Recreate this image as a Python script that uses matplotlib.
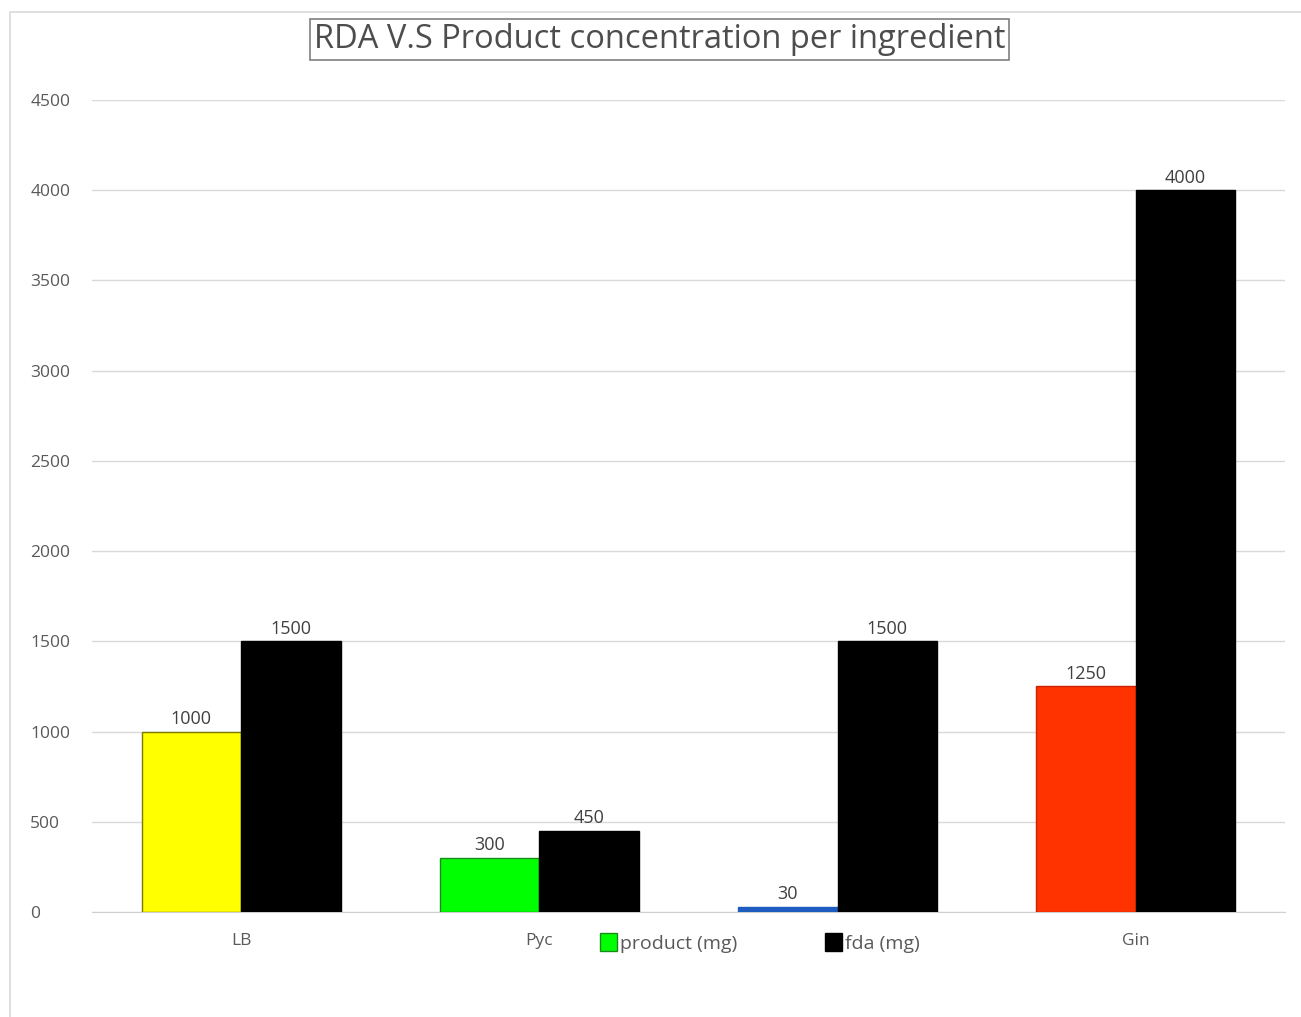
import matplotlib.pyplot as plt
from matplotlib.patches import Rectangle, Patch
import numpy as np

categories = ['LB', 'Pyc', '', 'Gin']
product_mg = [1000, 300, 30, 1250]
fda_mg = [1500, 450, 1500, 4000]
product_colors = ['#ffff00', '#00ff00', '#1f5cbf', '#ff3300']
product_edges = ['#7a7a00', '#1a8a1a', '#1f5cbf', '#cc2200']

plt.rcParams['font.family'] = ['Open Sans', 'DejaVu Sans']

fig = plt.figure(figsize=(13.01, 10.17), dpi=100)
ax = fig.add_axes([0.0707, 0.1032, 0.9170, 0.7985])

# light frame around the whole chart
fig.patches.append(Rectangle((0.008, -0.01), 1.2, 0.998, transform=fig.transFigure,
                             fill=False, edgecolor='#d9d9d9', linewidth=1.2))

x = np.arange(len(categories))
w = 1 / 3
bars_p = ax.bar(x - w / 2, product_mg, w, color=product_colors,
                edgecolor=product_edges, linewidth=1, zorder=3)
bars_f = ax.bar(x + w / 2, fda_mg, w, color='black', edgecolor='black', zorder=3)

for b, v in zip(list(bars_p) + list(bars_f), product_mg + fda_mg):
    ax.text(b.get_x() + b.get_width() / 2, v + 20, str(v), ha='center', va='bottom',
            fontsize=13, color='#404040')

ax.set_xlim(-0.5, 3.5)
ax.set_ylim(0, 4500)
ax.set_yticks(range(0, 4501, 500))
ax.set_xticks(x)
ax.set_xticklabels(categories)
ax.grid(axis='y', color='#d9d9d9', linewidth=1, zorder=0)
for s in ['top', 'right', 'left']:
    ax.spines[s].set_visible(False)
ax.spines['bottom'].set_color('#d0d0d0')
ax.tick_params(axis='both', length=0, labelsize=12.5, colors='#595959')
ax.tick_params(axis='y', pad=44.5)
ax.tick_params(axis='x', pad=15)
for lbl in ax.get_yticklabels():
    lbl.set_horizontalalignment('left')

handles = [Patch(facecolor='#00ff00', edgecolor='#1a8a1a', label='product (mg)'),
           Patch(facecolor='black', edgecolor='black', label='fda (mg)')]
fig.legend(handles=handles, loc='center', bbox_to_anchor=(0.584, 0.073), ncol=2,
           frameon=False, fontsize=14, handlelength=0.9, handleheight=1.1,
           handletextpad=0.15, columnspacing=4.5, labelcolor='#595959')

fig.text(0.507, 0.961, 'RDA V.S Product concentration per ingredient', fontsize=23.5,
         color='#4d4d4d', ha='center', va='center',
         bbox=dict(facecolor='white', edgecolor='#7f7f7f', linewidth=1.2,
                   boxstyle='square,pad=0.12'))

fig.savefig('out.png', dpi=100)
